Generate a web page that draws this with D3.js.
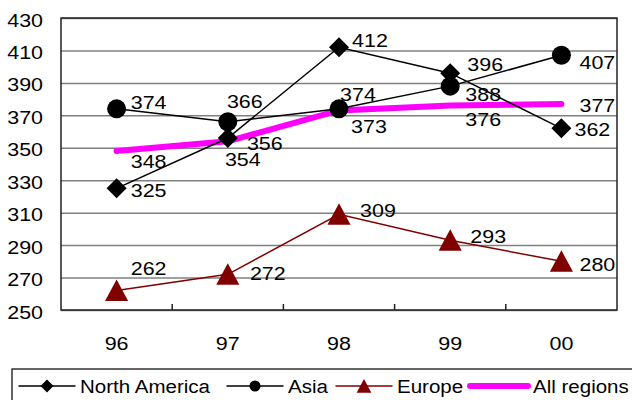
<!DOCTYPE html>
<html><head><meta charset="utf-8">
<script src="https://cdn.jsdelivr.net/npm/d3@7"></script>
<style>
html,body{margin:0;padding:0;background:#fff;}
text{font-family:"Liberation Sans",Arial,sans-serif;}
</style></head>
<body><svg id="c" width="632" height="400"></svg>
<script>
const categories = ["96","97","98","99","00"];
const northAmerica = [325,356,412,396,362];
const asia = [374,366,374,388,407];
const europe = [262,272,309,293,280];
const allRegions = [348,354,373,376,377];
const yTicks = [250,270,290,310,330,350,370,390,410,430];
const seriesNames = ["North America","Asia","Europe","All regions"];

// layout only: label offsets (dx, dy) relative to each point
const labelOffsets = {
  "North America": [[32,2],[37,5],[31,-7],[35,-9],[31,1]],
  "Asia": [[32,-6],[17,-20],[19,-14],[33,8],[36,7]],
  "Europe": [[32,-22],[40,-1],[39,-4],[38,-4],[36,3]],
  "All regions": [[32,10],[15,18],[30,16],[33,14],[36,1]]
};

const svg = d3.select("#c");
const L = 61, R = 617, T = 18, B = 310;
const x = d3.scaleBand().domain(categories).range([L,R]);
const y = d3.scaleLinear().domain([250,430]).range([B,T]);
const fs = 19, SX = 1.13;

function txt(g, str, px, py, anchor, sx){
  return g.append("text")
    .attr("transform",`translate(${px},${py}) scale(${sx||SX},1)`)
    .attr("text-anchor",anchor).attr("dominant-baseline","central")
    .attr("font-size",fs).attr("fill","#000").text(str);
}

const series = [
  {name:seriesNames[0], values:northAmerica, color:"#000", width:1.5, marker:"diamond"},
  {name:seriesNames[1], values:asia, color:"#000", width:1.5, marker:"circle"},
  {name:seriesNames[2], values:europe, color:"#800000", width:1.5, marker:"triangle"},
  {name:seriesNames[3], values:allRegions, color:"#ff00ff", width:6, marker:null}
];

// gridlines
svg.append("g").attr("transform",`translate(${L},0)`)
  .call(d3.axisLeft(y).tickValues(yTicks).tickSize(-(R-L)).tickFormat(""))
  .call(g=>{g.select(".domain").remove(); g.selectAll("line").attr("stroke","#808080").attr("stroke-width",1.5);});

// y labels
const yl = svg.append("g");
yTicks.forEach(d=>txt(yl, d, 43, y(d)+2, "end"));

// plot border
svg.append("rect").attr("x",L).attr("y",T).attr("width",R-L).attr("height",B-T)
  .attr("fill","none").attr("stroke","#222").attr("stroke-width",1.5);

// x ticks (category boundaries, pointing up)
const bounds = categories.slice(1).map(c=>x(c));
svg.append("g").selectAll("line").data(bounds).join("line")
  .attr("x1",d=>d).attr("x2",d=>d).attr("y1",B).attr("y2",B-6)
  .attr("stroke","#222").attr("stroke-width",1.5);

const cx = c => x(c) + x.bandwidth()/2;

// x labels
const xl = svg.append("g");
categories.forEach(c=>txt(xl, c, cx(c), B+33, "middle"));

function drawMarker(g, type, px, py, s, color){
  if(type==="diamond"){
    g.append("path").attr("d",`M${px},${py-s}L${px+s},${py}L${px},${py+s}L${px-s},${py}Z`).attr("fill",color);
  } else if(type==="circle"){
    g.append("circle").attr("cx",px).attr("cy",py).attr("r",s).attr("fill",color);
  } else if(type==="triangle"){
    g.append("path").attr("d",`M${px},${py-s}L${px+s*1.05},${py+s*0.95}L${px-s*1.05},${py+s*0.95}Z`).attr("fill",color);
  }
}

const line = d3.line().x(d=>cx(d.c)).y(d=>y(d.v));
const drawOrder = [3,2,0,1];
drawOrder.forEach(i=>{
  const s = series[i];
  const pts = categories.map((c,j)=>({c, v:s.values[j]}));
  const g = svg.append("g");
  g.append("path").datum(pts).attr("d",line).attr("fill","none")
    .attr("stroke",s.color).attr("stroke-width",s.width).attr("stroke-linecap","round");
  if(s.marker){
    const size = s.marker==="diamond"?10:(s.marker==="circle"?9.5:11);
    pts.forEach(p=>drawMarker(g, s.marker, cx(p.c), y(p.v), size, s.color));
  }
});

// value labels
const vl = svg.append("g");
series.forEach(s=>{
  const offs = labelOffsets[s.name];
  s.values.forEach((d,j)=>txt(vl, d, cx(categories[j])+offs[j][0], y(d)+offs[j][1], "middle"));
});

// legend
const lg = svg.append("g");
lg.append("rect").attr("x",12).attr("y",369).attr("width",640).attr("height",50)
  .attr("fill","#fff").attr("stroke","#000").attr("stroke-width",1.2);
const legendX = [19,227,336,470];
const ly = 386;
series.forEach((s,i)=>{
  const x0 = legendX[i], x1 = x0 + (s.marker?56:58);
  lg.append("line").attr("x1",x0).attr("x2",x1).attr("y1",ly).attr("y2",ly)
    .attr("stroke",s.color).attr("stroke-width",s.marker?1.5:6).attr("stroke-linecap","round");
  if(s.marker){
    const size = s.marker==="diamond"?6.5:(s.marker==="circle"?5.5:7);
    drawMarker(lg, s.marker, (x0+x1)/2, ly, size, s.color);
  }
  txt(lg, s.name, x1+5, ly, "start", 1.08);
});
</script></body></html>
